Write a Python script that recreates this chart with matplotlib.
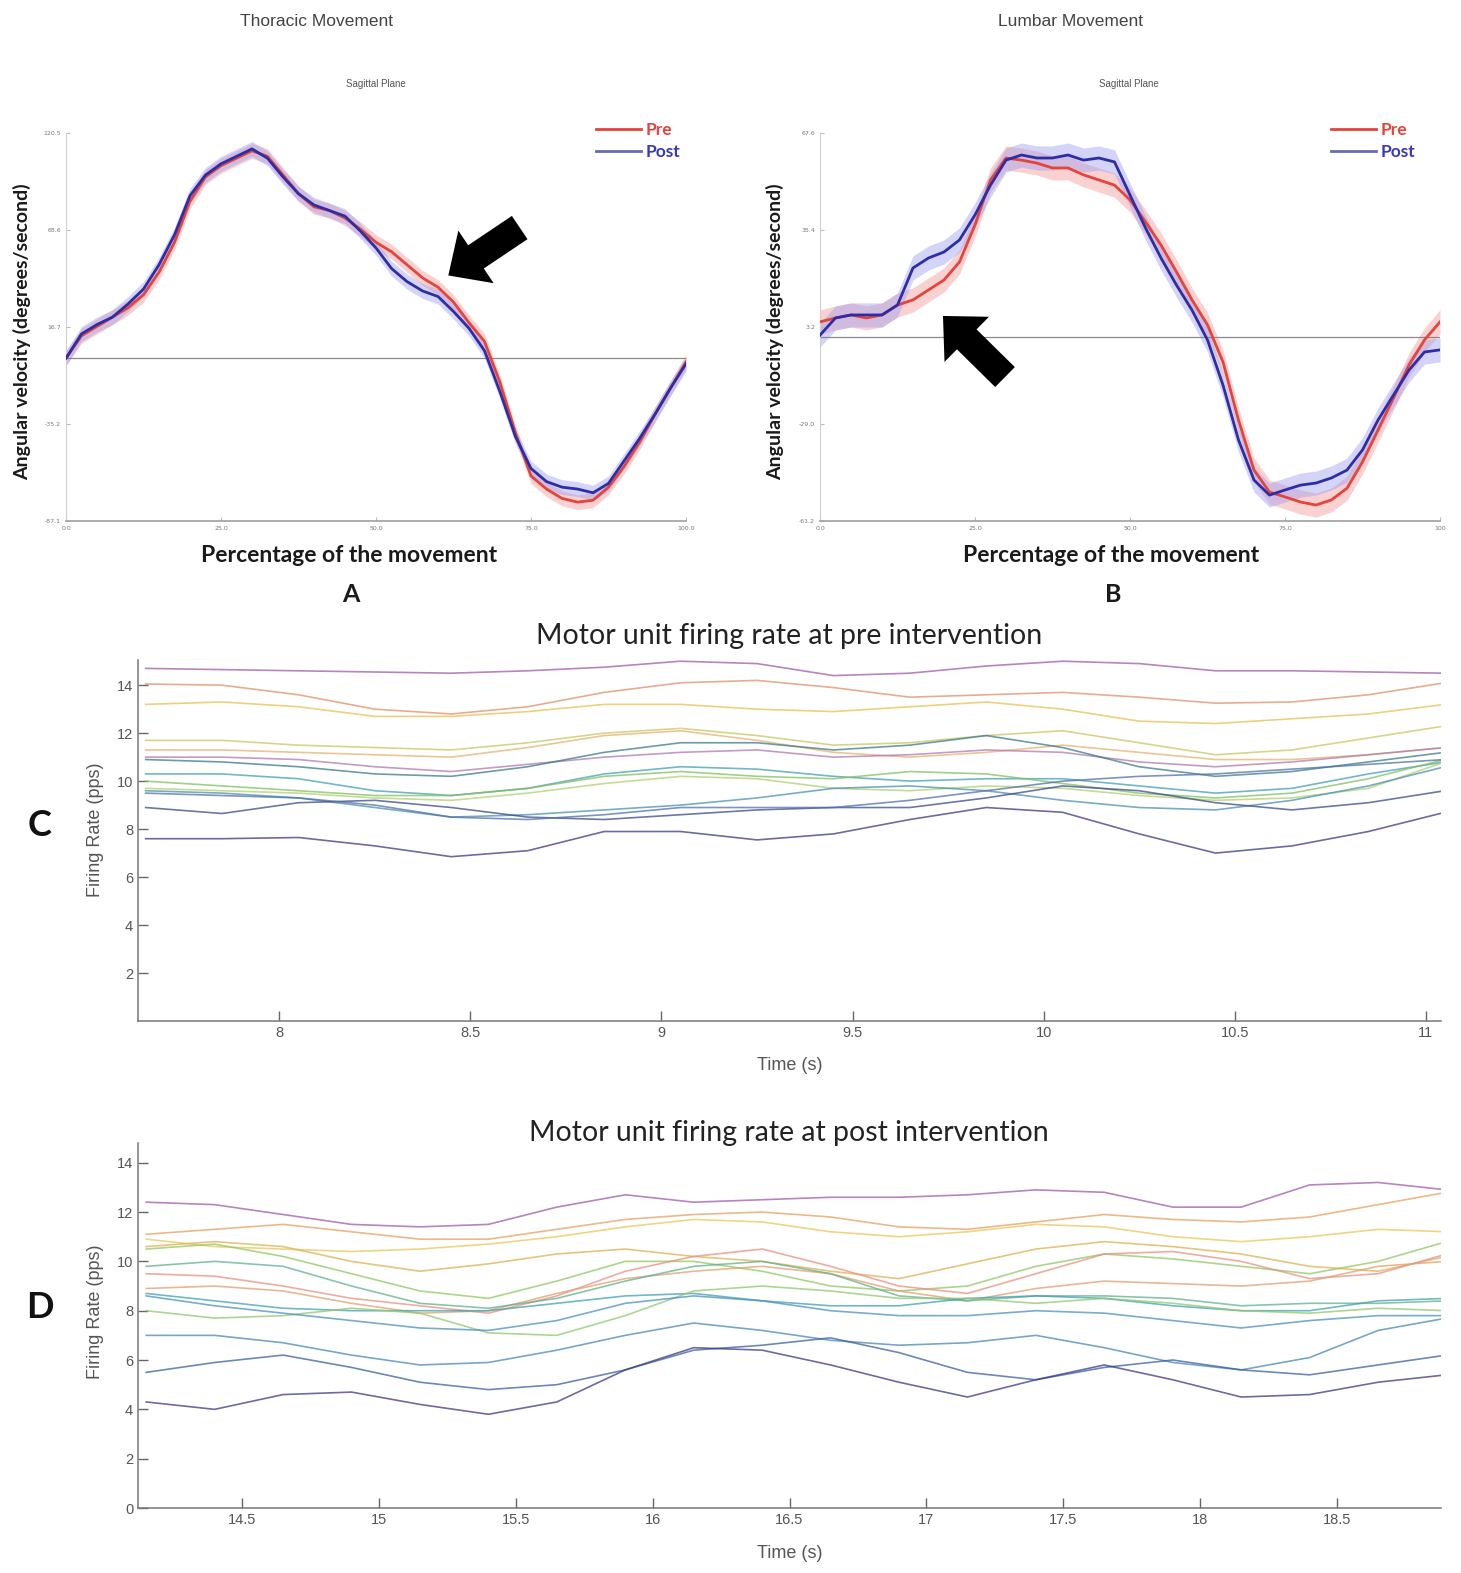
import matplotlib
matplotlib.use("Agg")
import matplotlib.pyplot as plt
import numpy as np

W, H = 1461, 1573
fig = plt.figure(figsize=(W / 100, H / 100), dpi=100)

# ---------------- data: panels A and B ----------------
pct = [0, 2.5, 5, 7.5, 10, 12.5, 15, 17.5, 20, 22.5, 25, 27.5, 30, 32.5, 35, 37.5, 40,
       42.5, 45, 47.5, 50, 52.5, 55, 57.5, 60, 62.5, 65, 67.5, 70, 72.5, 75, 77.5, 80,
       82.5, 85, 87.5, 90, 92.5, 95, 97.5, 100]

thor_post = [0, 13, 18, 22, 29, 37, 50, 66, 87, 98, 104, 108, 112, 107, 97, 88, 82, 79, 76,
             68, 59, 48, 41, 36, 33, 25, 16, 4, -18, -42, -59, -66, -69, -70, -72, -67, -55,
             -43, -30, -16, -3]
thor_pre = [0, 12, 17, 22, 27, 34, 46, 62, 84, 97, 103, 107, 111, 108, 98, 88, 81, 79, 75,
            69, 62, 57, 50, 43, 38, 30, 19, 9, -13, -40, -63, -70, -75, -77, -76, -69, -58,
            -45, -30, -16, -2]

lumb_post = [0.5, 6.2, 7.2, 7.2, 7.2, 10.5, 22.8, 26.1, 28.1, 32.1, 40.4, 50.3, 58.6, 60.3,
             59.3, 59.3, 60.3, 58.6, 59.3, 58.0, 47.0, 36.1, 26.1, 17.1, 8.8, -1.1, -16.1,
             -34.3, -47.6, -52.6, -50.9, -49.3, -48.6, -46.9, -44.3, -37.6, -27.7, -19.4,
             -11.1, -5.1, -4.4]
lumb_pre = [4.9, 6.2, 7.2, 6.2, 7.2, 10.5, 12.2, 15.5, 18.8, 24.8, 37.1, 52.0, 59.3, 58.6,
            57.6, 56.0, 56.0, 53.7, 52.0, 50.3, 45.4, 38.1, 30.4, 21.5, 12.2, 3.9, -8.4,
            -27.7, -44.3, -51.6, -53.2, -54.9, -55.9, -54.2, -50.3, -41.6, -31.0, -20.4,
            -9.4, -1.1, 4.9]

thor_yticks = [-87.1, -35.2, 16.7, 68.6, 120.5]
lumb_yticks = [-61.2, -29.0, 3.2, 35.4, 67.6]
pct_ticks = [0, 25, 50, 75, 100]
thor_xlabels = ["0.0", "25.0", "50.0", "75.0", "100.0"]
lumb_xlabels = ["0.0", "25.0", "50.0", "75.0", "100"]

# ---------------- data: panels C and D ----------------
t_pre = [7.65, 7.85, 8.05, 8.25, 8.45, 8.65, 8.85, 9.05, 9.25, 9.45, 9.65, 9.85, 10.05,
         10.25, 10.45, 10.65, 10.85, 11.05]
fr_pre = [
    [14.7, 14.65, 14.6, 14.55, 14.5, 14.6, 14.75, 15.0, 14.9, 14.4, 14.5, 14.8, 15.0, 14.9, 14.6, 14.6, 14.55, 14.5],
    [14.05, 14.0, 13.6, 13.0, 12.8, 13.1, 13.7, 14.1, 14.2, 13.9, 13.5, 13.6, 13.7, 13.5, 13.25, 13.3, 13.6, 14.1],
    [13.2, 13.3, 13.1, 12.7, 12.7, 12.9, 13.2, 13.2, 13.0, 12.9, 13.1, 13.3, 13.0, 12.5, 12.4, 12.6, 12.8, 13.2],
    [11.7, 11.7, 11.5, 11.4, 11.3, 11.6, 12.0, 12.2, 11.9, 11.5, 11.6, 11.9, 12.1, 11.6, 11.1, 11.3, 11.8, 12.3],
    [11.3, 11.3, 11.2, 11.1, 11.0, 11.4, 11.9, 12.1, 11.7, 11.2, 11.0, 11.2, 11.5, 11.2, 10.9, 10.9, 11.1, 11.4],
    [11.0, 11.0, 10.9, 10.6, 10.4, 10.7, 11.0, 11.2, 11.3, 11.0, 11.1, 11.3, 11.2, 10.8, 10.6, 10.8, 11.1, 11.4],
    [10.9, 10.8, 10.6, 10.3, 10.2, 10.6, 11.2, 11.6, 11.6, 11.3, 11.5, 11.9, 11.4, 10.6, 10.2, 10.4, 10.8, 11.2],
    [10.3, 10.3, 10.1, 9.6, 9.4, 9.7, 10.3, 10.6, 10.5, 10.2, 10.0, 10.1, 10.1, 9.8, 9.5, 9.7, 10.3, 10.8],
    [10.0, 9.8, 9.6, 9.4, 9.4, 9.7, 10.2, 10.4, 10.2, 10.1, 10.4, 10.3, 9.9, 9.5, 9.3, 9.5, 10.1, 10.9],
    [9.7, 9.6, 9.5, 9.3, 9.2, 9.5, 9.9, 10.2, 10.1, 9.7, 9.6, 9.8, 9.7, 9.4, 9.2, 9.3, 9.7, 10.8],
    [9.6, 9.5, 9.3, 8.9, 8.5, 8.6, 8.8, 9.0, 9.3, 9.7, 9.8, 9.6, 9.2, 8.9, 8.8, 9.2, 9.8, 10.6],
    [8.9, 8.65, 9.1, 9.2, 8.9, 8.5, 8.4, 8.6, 8.8, 8.9, 8.9, 9.3, 9.8, 9.6, 9.1, 8.8, 9.1, 9.6],
    [9.5, 9.4, 9.3, 9.0, 8.5, 8.4, 8.6, 8.9, 8.9, 8.9, 9.2, 9.6, 10.0, 10.2, 10.3, 10.5, 10.7, 10.9],
    [7.6, 7.6, 7.65, 7.3, 6.85, 7.1, 7.9, 7.9, 7.55, 7.8, 8.4, 8.9, 8.7, 7.8, 7.0, 7.3, 7.9, 8.7],
]
t_post = [14.15, 14.4, 14.65, 14.9, 15.15, 15.4, 15.65, 15.9, 16.15, 16.4, 16.65, 16.9,
          17.15, 17.4, 17.65, 17.9, 18.15, 18.4, 18.65, 18.9]
fr_post = [
    [12.4, 12.3, 11.9, 11.5, 11.4, 11.5, 12.2, 12.7, 12.4, 12.5, 12.6, 12.6, 12.7, 12.9, 12.8, 12.2, 12.2, 13.1, 13.2, 12.9],
    [11.1, 11.3, 11.5, 11.2, 10.9, 10.9, 11.3, 11.7, 11.9, 12.0, 11.8, 11.4, 11.3, 11.6, 11.9, 11.7, 11.6, 11.8, 12.3, 12.8],
    [10.9, 10.6, 10.5, 10.4, 10.5, 10.7, 11.0, 11.4, 11.7, 11.6, 11.2, 11.0, 11.2, 11.5, 11.4, 11.0, 10.8, 11.0, 11.3, 11.2],
    [10.6, 10.8, 10.6, 10.0, 9.6, 9.9, 10.3, 10.5, 10.2, 10.0, 9.6, 9.3, 9.9, 10.5, 10.8, 10.6, 10.3, 9.8, 9.6, 10.2],
    [10.5, 10.7, 10.2, 9.5, 8.8, 8.5, 9.2, 10.0, 10.0, 9.6, 9.0, 8.8, 9.0, 9.8, 10.3, 10.1, 9.8, 9.5, 10.0, 10.8],
    [9.5, 9.4, 9.0, 8.5, 8.2, 7.9, 8.6, 9.6, 10.2, 10.5, 9.8, 9.0, 8.7, 9.5, 10.3, 10.4, 10.0, 9.3, 9.5, 10.3],
    [8.9, 9.0, 8.8, 8.3, 7.9, 8.0, 8.7, 9.3, 9.6, 9.8, 9.5, 8.8, 8.4, 8.9, 9.2, 9.1, 9.0, 9.2, 9.8, 10.0],
    [9.8, 10.0, 9.8, 9.0, 8.3, 8.1, 8.5, 9.2, 9.8, 10.0, 9.5, 8.6, 8.4, 8.6, 8.6, 8.5, 8.2, 8.3, 8.3, 8.4],
    [8.7, 8.4, 8.1, 8.0, 8.0, 8.0, 8.3, 8.6, 8.7, 8.4, 8.2, 8.2, 8.5, 8.6, 8.5, 8.2, 8.0, 8.0, 8.4, 8.5],
    [8.0, 7.7, 7.8, 8.1, 7.9, 7.1, 7.0, 7.8, 8.8, 9.0, 8.8, 8.5, 8.5, 8.3, 8.5, 8.3, 8.0, 7.9, 8.1, 8.0],
    [8.6, 8.2, 7.9, 7.6, 7.3, 7.2, 7.6, 8.3, 8.6, 8.4, 8.0, 7.8, 7.8, 8.0, 7.9, 7.6, 7.3, 7.6, 7.8, 7.8],
    [7.0, 7.0, 6.7, 6.2, 5.8, 5.9, 6.4, 7.0, 7.5, 7.2, 6.8, 6.6, 6.7, 7.0, 6.5, 5.9, 5.6, 6.1, 7.2, 7.7],
    [5.5, 5.9, 6.2, 5.7, 5.1, 4.8, 5.0, 5.6, 6.4, 6.6, 6.9, 6.3, 5.5, 5.2, 5.7, 6.0, 5.6, 5.4, 5.8, 6.2],
    [4.3, 4.0, 4.6, 4.7, 4.2, 3.8, 4.3, 5.6, 6.5, 6.4, 5.8, 5.1, 4.5, 5.2, 5.8, 5.2, 4.5, 4.6, 5.1, 5.4],
]
pre_xticks = [8, 8.5, 9, 9.5, 10, 10.5, 11]
post_xticks = [14.5, 15, 15.5, 16, 16.5, 17, 17.5, 18, 18.5]
yticks_c = [2, 4, 6, 8, 10, 12, 14]
yticks_d = [0, 2, 4, 6, 8, 10, 12, 14]

colors_c = ['#a05aa8', '#e0906a', '#e8c050', '#c8c860', '#e8b070', '#b07ab0', '#3a7a8a',
            '#40a0b0', '#80c060', '#b0d070', '#4a90b0', '#3a4a8a', '#5070a8', '#3a3a80']
colors_d = ['#a05aa8', '#e8a060', '#e8c858', '#e0b050', '#90c860', '#e89080', '#e0a070',
            '#60b090', '#40a0b0', '#90c870', '#4a90c0', '#4a88b8', '#3a60a0', '#3a3a80']

# ---------------- styles ----------------
PRE_C, POST_C = '#e5443a', '#2d2da8'
BODY = 'Lato'


def fx(px):
    return px / W


def fy(py):
    return 1 - py / H


def angle_panel(ax, pre, post, yticks, xlabels):
    sd = 4.0
    pre = np.array(pre, float)
    post = np.array(post, float)
    ax.fill_between(pct, pre - sd, pre + sd, color='#f29a9a', alpha=0.45, lw=0)
    ax.fill_between(pct, post - sd, post + sd, color='#a0a0f0', alpha=0.45, lw=0)
    ax.axhline(0, color='#8a8a8a', lw=0.9, zorder=1)
    ax.plot(pct, pre, color=PRE_C, lw=2.0, label='Pre', zorder=3)
    ax.plot(pct, post, color=POST_C, lw=2.0, label='Post', zorder=4)
    ax.set_xlim(0, 100)
    ax.set_ylim(yticks[0], yticks[-1])
    ax.set_yticks(yticks)
    ax.set_yticklabels([f"{v:.1f}" for v in yticks])
    ax.set_xticks(pct_ticks)
    ax.set_xticklabels(xlabels)
    ax.tick_params(labelsize=4.5, labelcolor='#777777', colors='#bbbbbb', length=3,
                   direction='in', width=0.8)
    for s in ['top', 'right']:
        ax.spines[s].set_visible(False)
    ax.spines['left'].set_color('#d0d0d0')
    ax.spines['bottom'].set_color('#a0a0a0')
    ax.spines['bottom'].set_linewidth(1.2)


axA = fig.add_axes([fx(66), fy(521), fx(620), 388 / H])
angle_panel(axA, thor_pre, thor_post, thor_yticks, thor_xlabels)
axB = fig.add_axes([fx(820), fy(521), fx(620), 388 / H])
angle_panel(axB, lumb_pre, lumb_post, lumb_yticks, lumb_xlabels)

for ax, lx in [(axA, 580), (axB, 1315)]:
    leg = ax.legend(loc='center left', bbox_to_anchor=(fx(lx), fy(141)),
                    bbox_transform=fig.transFigure, frameon=False, handlelength=2.6,
                    handletextpad=0.3, labelspacing=0.35,
                    prop={'family': BODY, 'weight': 'bold', 'size': 12.5})
    for txt, c in zip(leg.get_texts(), [PRE_C, '#3a3ab8']):
        txt.set_color(c)
    leg.get_lines()[1].set_color('#6a6ab0')

# titles / labels for A and B
for cx, title in [(317, 'Thoracic Movement'), (1070, 'Lumbar Movement')]:
    fig.text(fx(cx), fy(22), title, ha='center', va='center', fontsize=12.5,
             color='#444444', family='Liberation Sans')
for cx in (376, 1129):
    fig.text(fx(cx), fy(84), 'Sagittal Plane', ha='center', va='center', fontsize=7,
             color='#555555', family='Liberation Sans')
for cx, letter in [(349, 'A'), (1111, 'B')]:
    fig.text(fx(cx), fy(556), 'Percentage of the movement', ha='center', va='center',
             fontsize=16.5, weight='bold', family=BODY, color='#1a1a1a')
    fig.text(fx(cx + 2), fy(594), letter, ha='center', va='center', fontsize=18,
             weight='bold', family=BODY, color='#1a1a1a')
for cx in (22, 775):
    fig.text(fx(cx), fy(332), 'Angular velocity (degrees/second)', ha='center',
             va='center', rotation=90, fontsize=14, weight='bold', family=BODY,
             color='#1a1a1a')

# arrows
arrow_style = 'simple,head_length=0.5,head_width=0.95,tail_width=0.42'
fig.add_artist(matplotlib.patches.FancyArrowPatch(
    (522, H - 226), (446, H - 277), transform=None, arrowstyle=arrow_style,
    mutation_scale=48, color='black', lw=0))
fig.add_artist(matplotlib.patches.FancyArrowPatch(
    (1007, H - 379), (941, H - 314), transform=None, arrowstyle=arrow_style,
    mutation_scale=48, color='black', lw=0))


# ---------------- C and D ----------------
def firing_panel(ax, t, rates, colors, xticks, yticks, ylim, xlim):
    for r, c in zip(rates, colors):
        ax.plot(t, r, color=c, lw=1.2, alpha=0.75)
    ax.set_xlim(*xlim)
    ax.set_ylim(*ylim)
    ax.set_xticks(xticks)
    ax.set_xticklabels([f"{v:g}" for v in xticks])
    ax.set_yticks(yticks)
    ax.tick_params(direction='in', length=7, width=1.0, colors='#666666',
                   labelsize=10.5, labelcolor='#555555')
    for lab in ax.get_xticklabels() + ax.get_yticklabels():
        lab.set_family('Liberation Sans')
    for s in ['top', 'right']:
        ax.spines[s].set_visible(False)
    for s in ['left', 'bottom']:
        ax.spines[s].set_color('#777777')
        ax.spines[s].set_linewidth(1.1)


axC = fig.add_axes([fx(138), fy(1021), fx(1303), 361 / H])
firing_panel(axC, t_pre, fr_pre, colors_c, pre_xticks, yticks_c, (0, 15.05), (7.63, 11.04))
axD = fig.add_axes([fx(138), fy(1508), fx(1303), 365 / H])
firing_panel(axD, t_post, fr_post, colors_d, post_xticks, yticks_d, (0, 14.8), (14.12, 18.88))

for ly, xy in [(830, 1066), (1312, 1553)]:
    fig.text(fx(95), fy(ly), 'Firing Rate (pps)', ha='center', va='center', rotation=90,
             fontsize=13, color='#555555', family='Liberation Sans')
    fig.text(fx(790), fy(xy), 'Time (s)', ha='center', va='center', fontsize=13,
             color='#555555', family='Liberation Sans')

fig.text(fx(789), fy(636), 'Motor unit firing rate at pre intervention', ha='center',
         va='center', fontsize=20.5, family=BODY, color='#222222')
fig.text(fx(789), fy(1133), 'Motor unit firing rate at post intervention', ha='center',
         va='center', fontsize=20.5, family=BODY, color='#222222')
fig.text(fx(40), fy(825), 'C', ha='center', va='center', fontsize=26, weight='bold',
         family=BODY, color='#111111')
fig.text(fx(40), fy(1307), 'D', ha='center', va='center', fontsize=26, weight='bold',
         family=BODY, color='#111111')

fig.savefig('out.png', dpi=100)
